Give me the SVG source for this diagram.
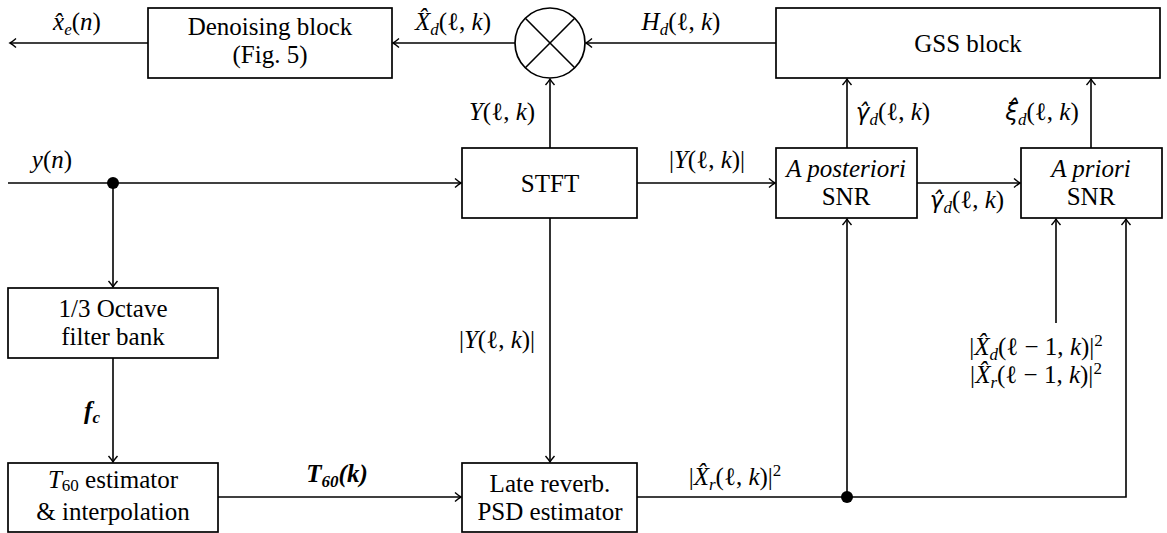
<svg xmlns="http://www.w3.org/2000/svg" width="1167" height="533" viewBox="0 0 1167 533">
<style>
.box{fill:#fff;stroke:#000;stroke-width:1.7}
.ln{fill:none;stroke:#000;stroke-width:1.6}
.t{font-family:'Liberation Serif','Times New Roman',serif;font-size:25px;text-anchor:middle;fill:#000}
.i{font-style:italic}
.bi{font-style:italic;font-weight:bold}
.s{font-size:17px}
.dj{font-family:'DejaVu Sans',sans-serif;font-size:23px}
</style>
<defs>
<marker id="ar" viewBox="-8 -6 10 12" markerWidth="10" markerHeight="12" refX="0" refY="0" orient="auto" markerUnits="userSpaceOnUse">
<path d="M-6,-4.5 Q-2,-1 0,0 Q-2,1 -6,4.5" fill="none" stroke="#000" stroke-width="1.4"/>
</marker>
</defs>
<rect width="1167" height="533" fill="#fff"/>
<g id="connectors">
<line class="ln" x1="148" y1="43" x2="10" y2="43" marker-end="url(#ar)"/>
<line class="ln" x1="515" y1="43" x2="393" y2="43" marker-end="url(#ar)"/>
<line class="ln" x1="776" y1="43" x2="586" y2="43" marker-end="url(#ar)"/>
<line class="ln" x1="550" y1="148" x2="550" y2="79" marker-end="url(#ar)"/>
<line class="ln" x1="8" y1="183" x2="461" y2="183" marker-end="url(#ar)"/>
<line class="ln" x1="113" y1="183" x2="113" y2="287" marker-end="url(#ar)"/>
<line class="ln" x1="113" y1="358" x2="113" y2="462" marker-end="url(#ar)"/>
<line class="ln" x1="218" y1="497" x2="461" y2="497" marker-end="url(#ar)"/>
<line class="ln" x1="550" y1="218" x2="550" y2="462" marker-end="url(#ar)"/>
<line class="ln" x1="637" y1="183" x2="775" y2="183" marker-end="url(#ar)"/>
<line class="ln" x1="847" y1="148" x2="847" y2="79" marker-end="url(#ar)"/>
<line class="ln" x1="917" y1="183" x2="1020" y2="183" marker-end="url(#ar)"/>
<line class="ln" x1="1091" y1="148" x2="1091" y2="79" marker-end="url(#ar)"/>
<polyline class="ln" points="637,497 1126,497 1126,219" marker-end="url(#ar)"/>
<line class="ln" x1="847" y1="497" x2="847" y2="219" marker-end="url(#ar)"/>
<line class="ln" x1="1056" y1="323" x2="1056" y2="219" marker-end="url(#ar)"/>
<circle cx="113" cy="183" r="6"/>
<circle cx="847" cy="497" r="6"/>
</g>
<g id="denoising">
<rect class="box" x="148" y="8" width="244" height="70"/>
<text class="t" x="270" y="35">Denoising block</text>
<text class="t" x="270" y="63">(Fig. 5)</text>
</g>
<g id="multiplier">
<circle cx="550" cy="43" r="35" fill="#fff" stroke="#000" stroke-width="1.7"/>
<line class="ln" x1="525.3" y1="18.3" x2="574.7" y2="67.7"/>
<line class="ln" x1="574.7" y1="18.3" x2="525.3" y2="67.7"/>
</g>
<g id="gss">
<rect class="box" x="776" y="8" width="384" height="70"/>
<text class="t" x="968" y="52">GSS block</text>
</g>
<g id="stft">
<rect class="box" x="462" y="148" width="175" height="70"/>
<text class="t" x="550" y="192">STFT</text>
</g>
<g id="aposteriori">
<rect class="box" x="776" y="148" width="141" height="70"/>
<text class="t i" x="846" y="177">A posteriori</text>
<text class="t" x="846" y="205">SNR</text>
</g>
<g id="apriori">
<rect class="box" x="1021" y="148" width="141" height="70"/>
<text class="t i" x="1091" y="177">A priori</text>
<text class="t" x="1091" y="205">SNR</text>
</g>
<g id="octave">
<rect class="box" x="8" y="288" width="210" height="70"/>
<text class="t" x="113" y="317">1/3 Octave</text>
<text class="t" x="113" y="345">filter bank</text>
</g>
<g id="t60">
<rect class="box" x="8" y="463" width="210" height="69"/>
<text class="t" x="113" y="488"><tspan class="i">T</tspan><tspan class="s" dy="3">60</tspan><tspan dy="-3"> estimator</tspan></text>
<text class="t" x="113" y="520">&amp; interpolation</text>
</g>
<g id="latereverb">
<rect class="box" x="462" y="463" width="175" height="69"/>
<text class="t" x="550" y="492">Late reverb.</text>
<text class="t" x="550" y="520">PSD estimator</text>
</g>
<g id="labels">
<text class="t" x="77" y="30"><tspan class="i">x̂</tspan><tspan class="s i" dy="5">e</tspan><tspan dy="-5">(</tspan><tspan class="i">n</tspan>)</text>
<text class="t" x="453" y="30"><tspan class="i">X̂</tspan><tspan class="s i" dy="5">d</tspan><tspan dy="-5">(ℓ, </tspan><tspan class="i">k</tspan>)</text>
<text class="t" x="681" y="30"><tspan class="i">H</tspan><tspan class="s i" dy="5">d</tspan><tspan dy="-5">(ℓ, </tspan><tspan class="i">k</tspan>)</text>
<text class="t" x="502" y="120"><tspan class="i">Y</tspan>(ℓ, <tspan class="i">k</tspan>)</text>
<text class="t" x="893" y="120"><tspan class="dj i">γ̂</tspan><tspan class="s i" dy="5">d</tspan><tspan dy="-5">(ℓ, </tspan><tspan class="i">k</tspan>)</text>
<text class="t" x="1042" y="120"><tspan class="dj i">ξ̂</tspan><tspan class="s i" dy="5">d</tspan><tspan dy="-5">(ℓ, </tspan><tspan class="i">k</tspan>)</text>
<text class="t" x="967" y="208"><tspan class="dj i">γ̂</tspan><tspan class="s i" dy="5">d</tspan><tspan dy="-5">(ℓ, </tspan><tspan class="i">k</tspan>)</text>
<text class="t" x="707" y="168">|<tspan class="i">Y</tspan>(ℓ, <tspan class="i">k</tspan>)|</text>
<text class="t" x="52" y="168"><tspan class="i">y</tspan>(<tspan class="i">n</tspan>)</text>
<text class="t bi" x="92" y="419">f<tspan class="s" dy="4">c</tspan></text>
<text class="t bi" x="337" y="482">T<tspan class="s" dy="5">60</tspan><tspan dy="-5">(k)</tspan></text>
<text class="t" x="497" y="348">|<tspan class="i">Y</tspan>(ℓ, <tspan class="i">k</tspan>)|</text>
<text class="t" x="735" y="485">|<tspan class="i">X̂</tspan><tspan class="s i" dy="5">r</tspan><tspan dy="-5">(ℓ, </tspan><tspan class="i">k</tspan>)|<tspan class="s" dy="-9">2</tspan></text>
<text class="t" x="1036" y="355">|<tspan class="i">X̂</tspan><tspan class="s i" dy="5">d</tspan><tspan dy="-5">(ℓ − 1, </tspan><tspan class="i">k</tspan>)|<tspan class="s" dy="-9">2</tspan></text>
<text class="t" x="1036" y="383">|<tspan class="i">X̂</tspan><tspan class="s i" dy="5">r</tspan><tspan dy="-5">(ℓ − 1, </tspan><tspan class="i">k</tspan>)|<tspan class="s" dy="-9">2</tspan></text>
</g>
</svg>
